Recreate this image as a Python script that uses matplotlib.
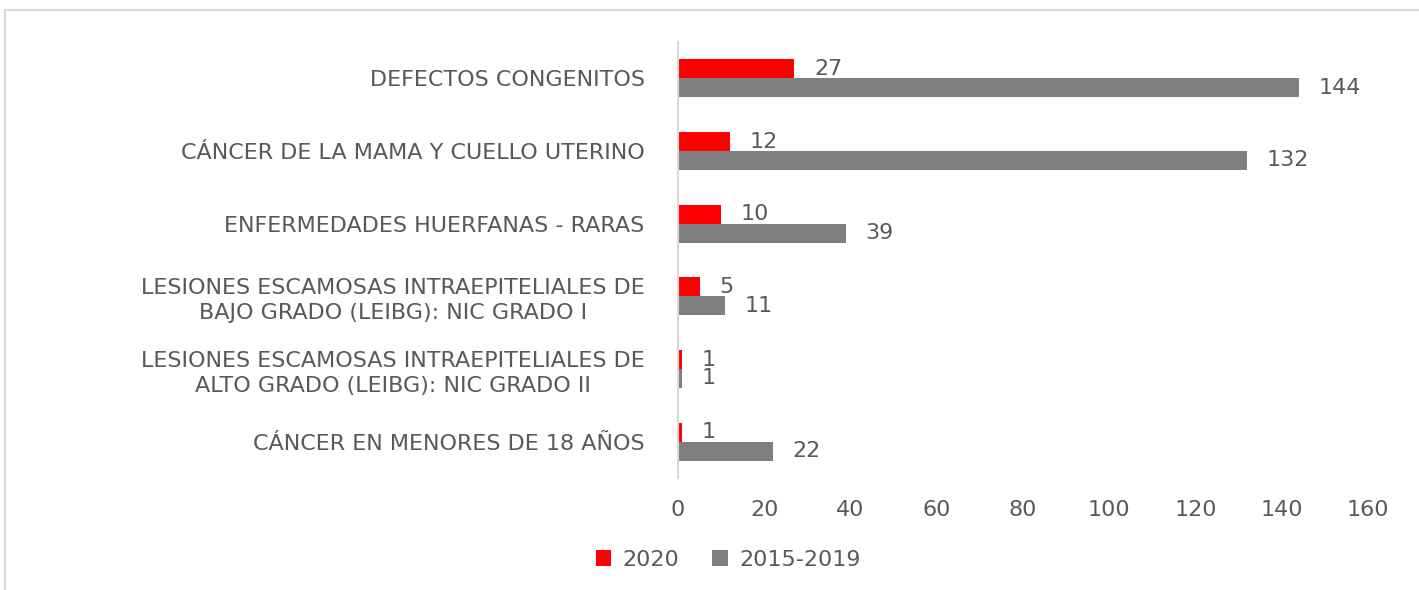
import matplotlib
matplotlib.use("Agg")
import matplotlib.pyplot as plt
from matplotlib.patches import Rectangle
import numpy as np

# data
categories = [
    "DEFECTOS CONGENITOS",
    "CÁNCER DE LA MAMA Y CUELLO UTERINO",
    "ENFERMEDADES HUERFANAS - RARAS",
    "LESIONES ESCAMOSAS INTRAEPITELIALES DE\nBAJO GRADO (LEIBG): NIC GRADO I",
    "LESIONES ESCAMOSAS INTRAEPITELIALES DE\nALTO GRADO (LEIBG): NIC GRADO II",
    "CÁNCER EN MENORES DE 18 AÑOS",
]
vals_2020 = [27, 12, 10, 5, 1, 1]
vals_hist = [144, 132, 39, 11, 1, 22]
series_names = ["2020", "2015-2019"]
xticks = [0, 20, 40, 60, 80, 100, 120, 140, 160]

txt = "#595959"
red = "#FF0000"
grey = "#7F7F7F"
fs = 16

fig = plt.figure(figsize=(14.19, 5.9), dpi=100)
# chart border
fig.patches.append(Rectangle((5 / 1419, -0.02), 1.1, 1 - 10 / 590 + 0.02,
                             transform=fig.transFigure, fill=False,
                             edgecolor="#d9d9d9", linewidth=1.5))

ax = fig.add_axes([678 / 1419, 1 - 478 / 590, (1368 - 678) / 1419, (478 - 42) / 590])
y = np.arange(len(categories))
h = 0.26
b1 = ax.barh(y - h / 2, vals_2020, height=h, color=red, label=series_names[0])
b2 = ax.barh(y + h / 2, vals_hist, height=h, color=grey, label=series_names[1])

for bars, vals in ((b1, vals_2020), (b2, vals_hist)):
    for r, v in zip(bars, vals):
        ax.annotate(str(v), (r.get_width(), r.get_y() + r.get_height() / 2),
                    xytext=(14, 0), textcoords="offset points",
                    ha="left", va="center", fontsize=fs, color=txt)

ax.set_xlim(0, 160)
ax.set_ylim(len(categories) - 0.5, -0.5)
ax.set_xticks(xticks)
ax.set_yticks(y)
ax.set_yticklabels(categories, multialignment="center", linespacing=1.3)
ax.tick_params(axis="y", length=0, pad=24, labelsize=fs, labelcolor=txt)
ax.tick_params(axis="x", length=0, pad=16, labelsize=fs, labelcolor=txt)
for s in ("top", "right", "bottom"):
    ax.spines[s].set_visible(False)
ax.spines["left"].set_color("#d9d9d9")
ax.spines["left"].set_linewidth(1.5)

leg = fig.legend(loc="center", bbox_to_anchor=(728 / 1419, 1 - 560 / 590), ncol=2,
                 frameon=False, fontsize=fs, handlelength=0.7, handleheight=0.7,
                 handletextpad=0.5, columnspacing=1.5)
for t in leg.get_texts():
    t.set_color(txt)

fig.savefig("out.png", dpi=100)
